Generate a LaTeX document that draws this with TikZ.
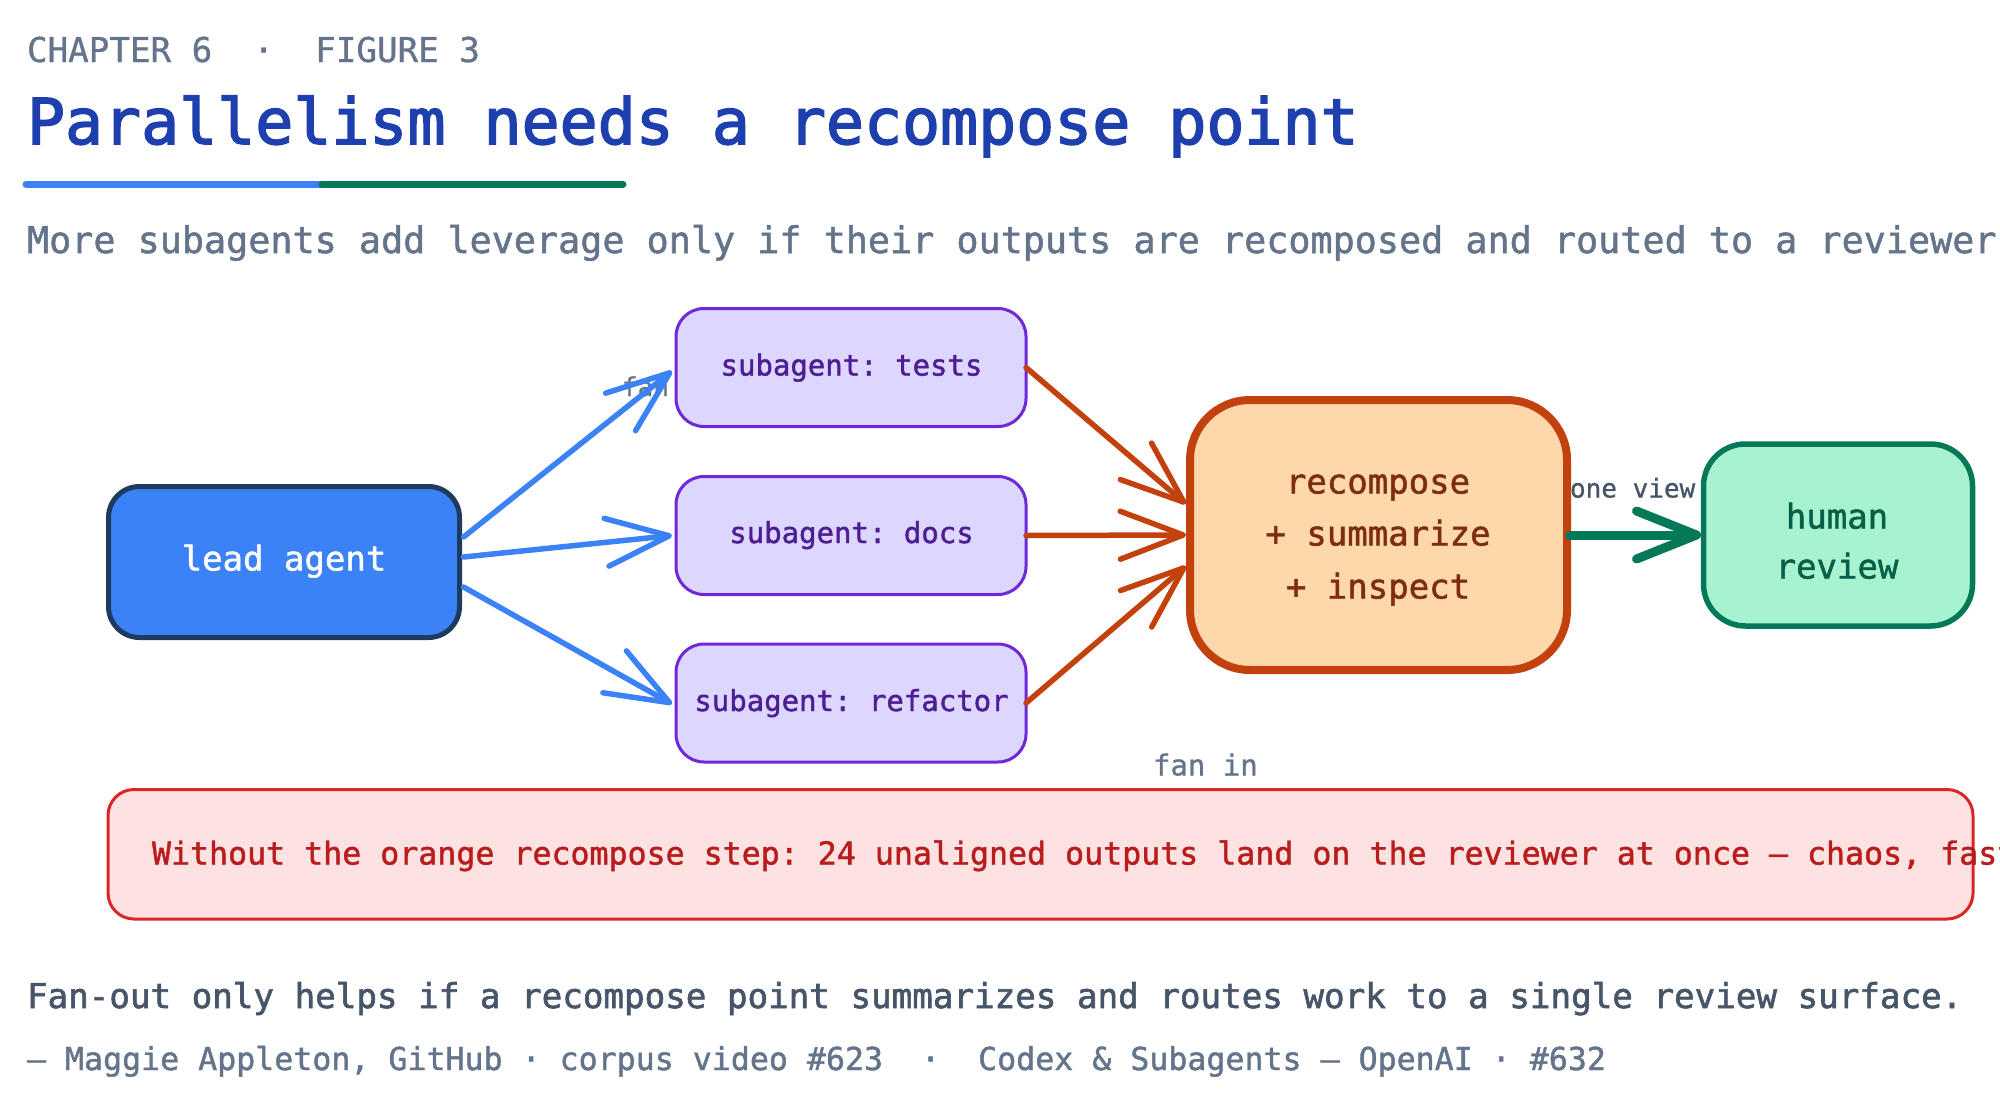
\documentclass[tikz,border=0pt]{standalone}
\usepackage{fontspec}
\usetikzlibrary{arrows.meta,calc}
\setmonofont{DejaVu Sans Mono}
\setmainfont{DejaVu Sans Mono}
\newfontfamily\flite[FakeBold=0.9]{DejaVu Sans Mono}
\newfontfamily\fmed[FakeBold=1.4]{DejaVu Sans Mono}
\newfontfamily\fsemi[FakeBold=1.8]{DejaVu Sans Mono}
\newfontfamily\ftitle[FakeBold=2.4]{DejaVu Sans Mono}
\newcommand{\fpx}[1]{\fontsize{#1}{#1}\selectfont\frenchspacing}
\definecolor{slatea}{HTML}{64748B}
\definecolor{slateb}{HTML}{475569}
\definecolor{titleblue}{HTML}{1E40AF}
\definecolor{leadblue}{HTML}{3B82F6}
\definecolor{leaddark}{HTML}{1E3A5F}
\definecolor{subfill}{HTML}{DDD6FE}
\definecolor{subline}{HTML}{6D28D9}
\definecolor{subtext}{HTML}{4C1D95}
\definecolor{recfill}{HTML}{FED7AA}
\definecolor{recline}{HTML}{C2410C}
\definecolor{rectext}{HTML}{7C2D12}
\definecolor{humfill}{HTML}{A7F3D0}
\definecolor{humline}{HTML}{047857}
\definecolor{humtext}{HTML}{065F46}
\definecolor{alfill}{HTML}{FEE2E2}
\definecolor{alline}{HTML}{DC2626}
\definecolor{altext}{HTML}{B91C1C}
\tikzset{
  x=0.5pt,y=-0.5pt,
  px/.style={line width=#1*0.5pt},
  boxed/.style={rectangle,draw,anchor=north west,inner sep=0pt,outer sep=0pt},
  txt/.style={anchor=base west,inner sep=0pt,outer sep=0pt},
  ctr/.style={anchor=base,inner sep=0pt,outer sep=0pt,align=center},
  barb/.style={-{Straight Barb[length=31.5pt,width=24pt,round]},line cap=round},
  barbg/.style={-{Straight Barb[length=30pt,width=24pt,round]},line cap=round},
}
\begin{document}
\begin{tikzpicture}
\useasboundingbox (0,0) rectangle (2000,1108);
\clip (0,0) rectangle (2000,1108);
% header
\node[txt,text=slatea] (kicker) at (27,62) {\fpx{17.1}\flite CHAPTER 6\ \ ·\ \ FIGURE 3};
\node[txt,text=titleblue] (title) at (27,144) {\fpx{31.6}\ftitle Parallelism needs a recompose point};
\draw[leadblue,px=7,line cap=round] (26,184) -- (322,184);
\draw[humline,px=7,line cap=round] (322,184) -- (623,184);
\node[txt,text=slatea] (subtitle) at (27,253) {\fpx{18.38}\fmed More subagents add leverage only if their outputs are recomposed and routed to a reviewer};
% labels behind boxes
\node[txt,text=slatea] (fanout) at (622,396) {\fpx{13}\flite fan out};
% boxes
\node[boxed,fill=leadblue,draw=leaddark,px=5,rounded corners=15.5pt,minimum width=175.5pt,minimum height=75.5pt] (lead) at (108.5,486.5) {};
\node[ctr,text=white] at (284,570.5) {\fpx{17}\fmed lead agent};
\foreach \nm/\yy/\bl/\lbl in {st/308.5/375.5/tests,sd/476.5/543/docs,sr/644/711/refactor}{
  \node[boxed,fill=subfill,draw=subline,px=3,rounded corners=14pt,minimum width=175pt,minimum height=59pt] (\nm) at (676,\yy) {};
  \node[ctr,text=subtext] at (851.5,\bl) {\fpx{14.5}\fmed subagent: \lbl};
}
\node[boxed,fill=recfill,draw=recline,px=8,rounded corners=30pt,minimum width=188.5pt,minimum height=135pt] (rec) at (1190,400) {};
\node[ctr,text=rectext] at (1378,493.5) {\fpx{17}\fmed recompose};
\node[ctr,text=rectext] at (1378,545.5) {\fpx{17}\fmed + summarize};
\node[ctr,text=rectext] at (1378,598.5) {\fpx{17}\fmed + inspect};
\node[boxed,fill=humfill,draw=humline,px=5.5,rounded corners=21pt,minimum width=134.5pt,minimum height=91pt] (hum) at (1703.5,444) {};
\node[ctr,text=humtext] at (1837,528.5) {\fpx{17}\fmed human};
\node[ctr,text=humtext] at (1837,578.5) {\fpx{17}\fmed review};
\node[boxed,fill=alfill,draw=alline,px=3,rounded corners=13pt,minimum width=932.5pt,minimum height=64.75pt] (alert) at (108,789.5) {};
\node[txt,text=altext] at (152,864.5) {\fpx{15.8}\fmed Without the orange recompose step: 24 unaligned outputs land on the reviewer at once — chaos, fast};
% connectors
\draw[barb,leadblue,px=5.5] ([yshift=12.5pt,xshift=2pt]lead.east) -- ([yshift=-1.75pt,xshift=-2pt]st.west);
\draw[barb,leadblue,px=5.5] ([yshift=2.5pt,xshift=2pt]lead.east) -- ([xshift=-2pt]sd.west);
\draw[barb,leadblue,px=5.5] ([yshift=-12.5pt,xshift=2pt]lead.east) -- ([yshift=-0.5pt,xshift=-2pt]sr.west);
\draw[barb,recline,px=5.5] (st.east) -- ([yshift=15.5pt,xshift=-2pt]rec.west);
\draw[barb,recline,px=5.5] (sd.east) -- ([xshift=-2pt]rec.west);
\draw[barb,recline,px=5.5] (sr.east) -- ([yshift=-15.5pt,xshift=-2pt]rec.west);
\draw[barbg,humline,px=9] ([xshift=1.25pt]rec.east) -- ([xshift=-1.25pt]hum.west);
% edge labels
\node[txt,text=slateb] (oneview) at (1570,497.5) {\fpx{13}\flite one view};
\node[txt,text=slatea] (fanin) at (1153,775.5) {\fpx{14.5}\flite fan in};
% footer
\node[txt,text=slateb] (caption) at (27,1008) {\fpx{17.1}\fsemi Fan-out only helps if a recompose point summarizes and routes work to a single review surface.};
\node[txt,text=slatea] (source) at (27,1070) {\fpx{15.8}\fmed — Maggie Appleton, GitHub · corpus video \#623\ \ ·\ \ Codex \& Subagents — OpenAI · \#632};
\end{tikzpicture}
\end{document}
